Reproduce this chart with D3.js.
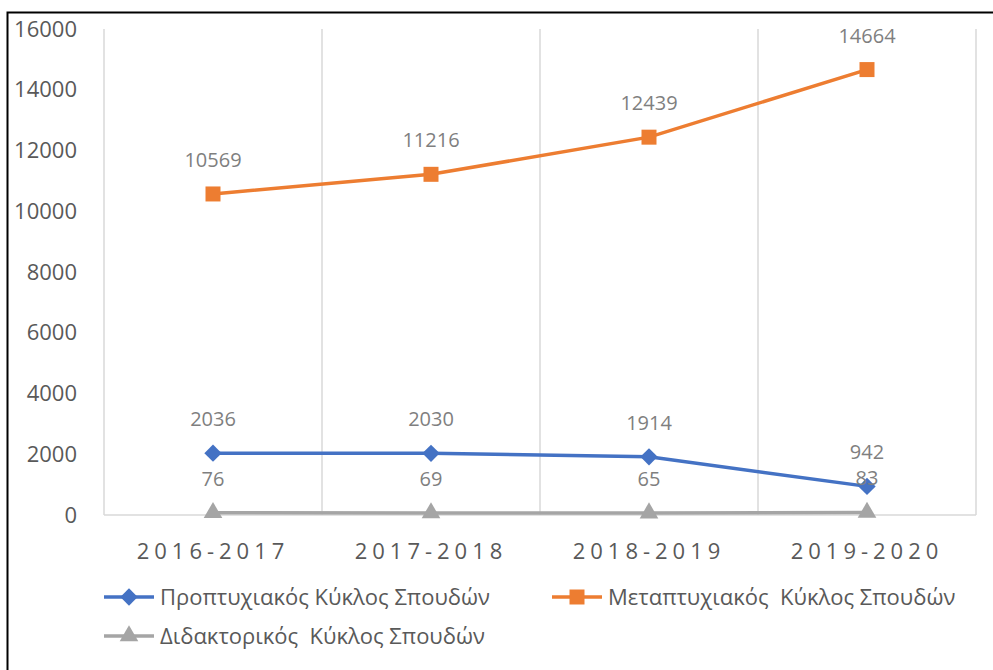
<!DOCTYPE html>
<html>
<head>
<meta charset="utf-8">
<script src="https://cdn.jsdelivr.net/npm/d3@7"></script>
<style>
  body { margin: 0; background: #fff; }
  svg text { font-family: "Open Sans", "Noto Sans", sans-serif; }
</style>
</head>
<body>
<div id="chart"></div>
<script>
var years = ["2016-2017", "2017-2018", "2018-2019", "2019-2020"];
var undergrad = [2036, 2030, 1914, 942];
var postgrad = [10569, 11216, 12439, 14664];
var doctoral = [76, 69, 65, 83];
var yTicks = [0, 2000, 4000, 6000, 8000, 10000, 12000, 14000, 16000];
var seriesNames = ["Προπτυχιακός Κύκλος Σπουδών", "Μεταπτυχιακός  Κύκλος Σπουδών", "Διδακτορικός  Κύκλος Σπουδών"];

var width = 993, height = 670;
var margin = {top: 29, right: 17, bottom: 155, left: 104};

var svg = d3.select("#chart").append("svg")
    .attr("width", width)
    .attr("height", height);

// outer frame (cut off on right/bottom like the screenshot)
svg.append("rect")
    .attr("x", 7.5).attr("y", 12.5)
    .attr("width", 1000).attr("height", 700)
    .attr("fill", "none")
    .attr("stroke", "#000")
    .attr("stroke-width", 2);

var x = d3.scaleBand()
    .domain(years)
    .range([margin.left, width - margin.right]);

var y = d3.scaleLinear()
    .domain([0, 16000])
    .range([height - margin.bottom, margin.top]);

// vertical gridlines at category boundaries
var bounds = years.map(function(d) { return x(d); }).concat([x.range()[1]]);
svg.append("g").selectAll("line")
    .data(bounds)
    .enter().append("line")
    .attr("x1", function(d) { return d; })
    .attr("x2", function(d) { return d; })
    .attr("y1", y(16000))
    .attr("y2", y(0))
    .attr("stroke", "#d9d9d9")
    .attr("stroke-width", 1.5);

// baseline
svg.append("line")
    .attr("x1", x.range()[0]).attr("x2", x.range()[1])
    .attr("y1", y(0)).attr("y2", y(0))
    .attr("stroke", "#d9d9d9")
    .attr("stroke-width", 1.5);

// y tick labels
svg.append("g").selectAll("text")
    .data(yTicks)
    .enter().append("text")
    .attr("x", 77)
    .attr("y", function(d) { return y(d); })
    .attr("dy", "0.35em")
    .attr("text-anchor", "end")
    .attr("fill", "#595959")
    .style("font-size", "22px")
    .text(function(d) { return d; });

// x labels (spaced like the original)
svg.append("g").selectAll("text")
    .data(years)
    .enter().append("text")
    .attr("x", function(d) { return x(d) + x.bandwidth() / 2; })
    .attr("y", 559)
    .attr("text-anchor", "middle")
    .attr("fill", "#595959")
    .style("font-size", "22px")
    .style("letter-spacing", "5px")
    .text(function(d) { return d; });

// diamond = rotated square
var diamond = {
  draw: function(ctx, size) {
    var r = Math.sqrt(size / 2);
    ctx.moveTo(0, -r);
    ctx.lineTo(r, 0);
    ctx.lineTo(0, r);
    ctx.lineTo(-r, 0);
    ctx.closePath();
  }
};

var series = [
  {name: seriesNames[0], values: undergrad, color: "#4472C4", marker: diamond, size: 150},
  {name: seriesNames[1], values: postgrad, color: "#ED7D31", marker: d3.symbolSquare, size: 225},
  {name: seriesNames[2], values: doctoral, color: "#A5A5A5", marker: d3.symbolTriangle, size: 150}
];

var line = d3.line()
    .x(function(d, i) { return x(years[i]) + x.bandwidth() / 2; })
    .y(function(d) { return y(d); });

// draw gray first, then blue, then orange
[series[2], series[0], series[1]].forEach(function(s) {
  var g = svg.append("g");
  g.append("path")
      .datum(s.values)
      .attr("d", line)
      .attr("fill", "none")
      .attr("stroke", s.color)
      .attr("stroke-width", 3.5);
  g.selectAll("path.m")
      .data(s.values)
      .enter().append("path")
      .attr("class", "m")
      .attr("d", d3.symbol().type(s.marker).size(s.size))
      .attr("transform", function(d, i) {
        return "translate(" + (x(years[i]) + x.bandwidth() / 2) + "," + y(d) + ")";
      })
      .attr("fill", s.color);
});

// data labels
series.forEach(function(s) {
  svg.append("g").selectAll("text")
      .data(s.values)
      .enter().append("text")
      .attr("x", function(d, i) { return x(years[i]) + x.bandwidth() / 2; })
      .attr("y", function(d) { return y(d) - 27; })
      .attr("text-anchor", "middle")
      .attr("fill", "#7f7f7f")
      .style("font-size", "20px")
      .text(function(d) { return d; });
});

// legend
var legendPos = [
  {x: 104, y: 597},
  {x: 552, y: 597},
  {x: 104, y: 636}
];
series.forEach(function(s, i) {
  var p = legendPos[i];
  var g = svg.append("g").attr("transform", "translate(" + p.x + "," + p.y + ")");
  g.append("line")
      .attr("x1", 0).attr("x2", 50)
      .attr("y1", 0).attr("y2", 0)
      .attr("stroke", s.color)
      .attr("stroke-width", 3.5);
  g.append("path")
      .attr("d", d3.symbol().type(s.marker).size(s.size))
      .attr("transform", "translate(25,0)")
      .attr("fill", s.color);
  g.append("text")
      .attr("x", 56)
      .attr("y", 0)
      .attr("dy", "0.35em")
      .attr("fill", "#595959")
      .style("font-size", "22px")
      .style("white-space", "pre")
      .text(s.name);
});
</script>
</body>
</html>
